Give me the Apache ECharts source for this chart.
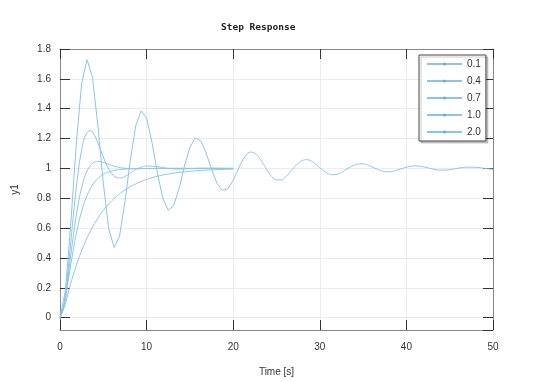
<!DOCTYPE html>
<html>
<head>
<meta charset="utf-8">
<script src="https://cdn.jsdelivr.net/npm/echarts@6/dist/echarts.min.js"></script>
<style>
  html, body { margin: 0; padding: 0; background: #fff; }
  #main { width: 560px; height: 382px; }
</style>
</head>
<body>
<div id="main"></div>
<script>
// damping ratios shown in legend
var zetaNames = ['0.1', '0.4', '0.7', '1.0', '2.0'];

// zeta = 0.1, coarse samples up to 20 s
var tCoarse = [0, 0.625, 1.25, 1.875, 2.5, 3.125, 3.75, 4.375, 5, 5.625, 6.25, 6.875, 7.5, 8.125, 8.75, 9.375, 10,
  10.625, 11.25, 11.875, 12.5, 13.125, 13.75, 14.375, 15, 15.625, 16.25, 16.875, 17.5, 18.125, 18.75, 19.375, 20];
var y01a = [0, 0.1815, 0.6325, 1.1611, 1.5704, 1.7289, 1.6097, 1.2862, 0.9014, 0.5955, 0.4693, 0.5465, 0.7758,
  1.0579, 1.2862, 1.3860, 1.3369, 1.1738, 0.9681, 0.7979, 0.7196, 0.7501, 0.8658, 1.0156, 1.1423, 1.2035, 1.1852,
  1.1032, 0.9942, 0.9000, 0.8525, 0.8629, 0.9209];

// zeta = 0.1, rest of the run (20..50 s)
var tTail = [20, 20.5, 21, 21.5, 22, 22.5, 23, 23.5, 24, 24.5, 25, 25.5, 26, 26.5, 27, 27.5, 28, 28.5, 29, 29.5,
  30, 30.5, 31, 31.5, 32, 32.5, 33, 33.5, 34, 34.5, 35, 35.5, 36, 36.5, 37, 37.5, 38, 38.5, 39, 39.5, 40,
  41, 42, 43, 44, 45, 46, 47, 48, 49, 50];
var y01b = [0.9209, 0.9841, 1.0450, 1.0896, 1.1091, 1.1013, 1.0707, 1.0265, 0.9803, 0.9431, 0.9227, 0.9223,
  0.9400, 0.9700, 1.0041, 1.0340, 1.0532, 1.0581, 1.0490, 1.0294, 1.0048, 0.9814, 0.9646, 0.9576, 0.9612,
  0.9735, 0.9907, 1.0086, 1.0227, 1.0302, 1.0299, 1.0227, 1.0109, 0.9977, 0.9863, 0.9791, 0.9775, 0.9813,
  0.9891, 0.9987, 1.0077, 1.0165, 1.0100, 0.9963, 0.9882, 0.9914, 1.0012, 1.0082, 1.0071, 1.0003, 0.9945];

// other damping ratios, 0..20 s
var tFine = [0, 0.5, 1, 1.5, 2, 2.5, 3, 3.5, 4, 4.5, 5, 5.5, 6, 6.5, 7, 7.5, 8, 8.5, 9, 9.5, 10,
  11, 12, 13, 14, 15, 16, 17, 18, 19, 20];
var y04 = [0, 0.1077, 0.3599, 0.6582, 0.9271, 1.1221, 1.2281, 1.2532, 1.2189, 1.1517, 1.0761, 1.0100, 0.9637,
  0.9400, 0.9362, 0.9465, 0.9643, 0.9833, 0.9995, 1.0104, 1.0157, 1.0130, 1.0036, 0.9971, 0.9960, 0.9981,
  1.0002, 1.0010, 1.0008, 1.0001, 0.9998];
var y07 = [0, 0.0983, 0.3059, 0.5313, 0.7257, 0.8706, 0.9653, 1.0185, 1.0416, 1.0458, 1.0398, 1.0298, 1.0196,
  1.0111, 1.0049, 1.0010, 0.9988, 0.9980, 0.9979, 0.9983, 0.9987, 0.9996, 1.0000, 1.0001, 1, 1, 1, 1, 1, 1, 1];
var y10 = [0, 0.0902, 0.2642, 0.4422, 0.5940, 0.7127, 0.8009, 0.8641, 0.9084, 0.9389, 0.9596, 0.9734, 0.9826,
  0.9887, 0.9927, 0.9953, 0.9970, 0.9981, 0.9988, 0.9992, 0.9995, 0.9998, 0.9999, 1, 1, 1, 1, 1, 1, 1, 1];
var y20 = [0, 0.0697, 0.1777, 0.2795, 0.3696, 0.4486, 0.5178, 0.5782, 0.6311, 0.6774, 0.7178, 0.7532, 0.7841,
  0.8112, 0.8349, 0.8556, 0.8737, 0.8895, 0.9034, 0.9155, 0.9261, 0.9435, 0.9568, 0.9669, 0.9747, 0.9806,
  0.9852, 0.9887, 0.9913, 0.9934, 0.9949];

var lineColor = '#8cc3ea';
var font = 'Liberation Sans, Arial, sans-serif';

function pairs(ts, ys) {
  return ts.map(function (t, i) { return [t, ys[i]]; });
}

function lineSeries(name, data, smooth) {
  return {
    name: name,
    type: 'line',
    data: data,
    smooth: smooth,
    symbol: 'circle',
    symbolSize: 3,
    showSymbol: false,
    lineStyle: { color: lineColor, width: 1 },
    itemStyle: { color: '#6aaede' },
    animation: false
  };
}

var myChart = echarts.init(document.getElementById('main'));

var tickStyle = { show: true, inside: true, length: 10, lineStyle: { color: '#333', width: 1 } };
var frameLine = { show: true, onZero: false, lineStyle: { color: '#888', width: 1 } };

var option = {
  animation: false,
  title: {
    text: 'Step Response',
    left: 216,
    top: 18,
    textStyle: { fontFamily: 'DejaVu Sans Mono', fontSize: 9.5, fontWeight: 'bold', color: '#222' }
  },
  grid: { left: 60, right: 67, top: 49, bottom: 50, containLabel: false },
  legend: {
    data: zetaNames,
    orient: 'vertical',
    left: 419,
    top: 55,
    padding: [3, 5, 3, 7],
    itemWidth: 35,
    itemHeight: 4,
    itemGap: 5,
    backgroundColor: '#fff',
    borderColor: '#444',
    borderWidth: 1,
    shadowColor: 'rgba(0,0,0,0.2)',
    shadowBlur: 0,
    shadowOffsetX: 2,
    shadowOffsetY: 2,
    textStyle: { fontFamily: font, fontSize: 10, color: '#333', lineHeight: 12 }
  },
  xAxis: [{
    type: 'value',
    min: 0, max: 50, interval: 10,
    position: 'bottom',
    name: 'Time [s]',
    nameLocation: 'middle',
    nameGap: 37,
    nameTextStyle: { fontFamily: font, fontSize: 10, color: '#333' },
    axisLine: frameLine,
    axisTick: tickStyle,
    axisLabel: { fontFamily: font, fontSize: 10, color: '#333', margin: 12 },
    splitLine: { show: true, lineStyle: { color: '#ececec' } }
  }, {
    type: 'value',
    min: 0, max: 50, interval: 10,
    position: 'top',
    axisLine: frameLine,
    axisTick: tickStyle,
    axisLabel: { show: false },
    splitLine: { show: false }
  }],
  yAxis: [{
    type: 'value',
    min: -0.083, max: 1.8,
    splitNumber: 9, minInterval: 0.2, maxInterval: 0.2,
    position: 'left',
    name: 'y1',
    nameLocation: 'middle',
    nameGap: 40,
    nameTextStyle: { fontFamily: font, fontSize: 10, color: '#333' },
    axisLine: frameLine,
    axisTick: tickStyle,
    axisLabel: { fontFamily: font, fontSize: 10, color: '#333', margin: 9, showMinLabel: false },
    splitLine: { show: true, lineStyle: { color: '#ececec' } }
  }, {
    type: 'value',
    min: -0.083, max: 1.8,
    splitNumber: 9, minInterval: 0.2, maxInterval: 0.2,
    position: 'right',
    axisLine: frameLine,
    axisTick: tickStyle,
    axisLabel: { show: false },
    splitLine: { show: false }
  }],
  series: [
    lineSeries('0.1', pairs(tCoarse, y01a), false),
    lineSeries('0.1', pairs(tTail, y01b), true),
    lineSeries('0.4', pairs(tFine, y04), true),
    lineSeries('0.7', pairs(tFine, y07), true),
    lineSeries('1.0', pairs(tFine, y10), true),
    lineSeries('2.0', pairs(tFine, y20), true)
  ]
};

myChart.setOption(option);
</script>
</body>
</html>
